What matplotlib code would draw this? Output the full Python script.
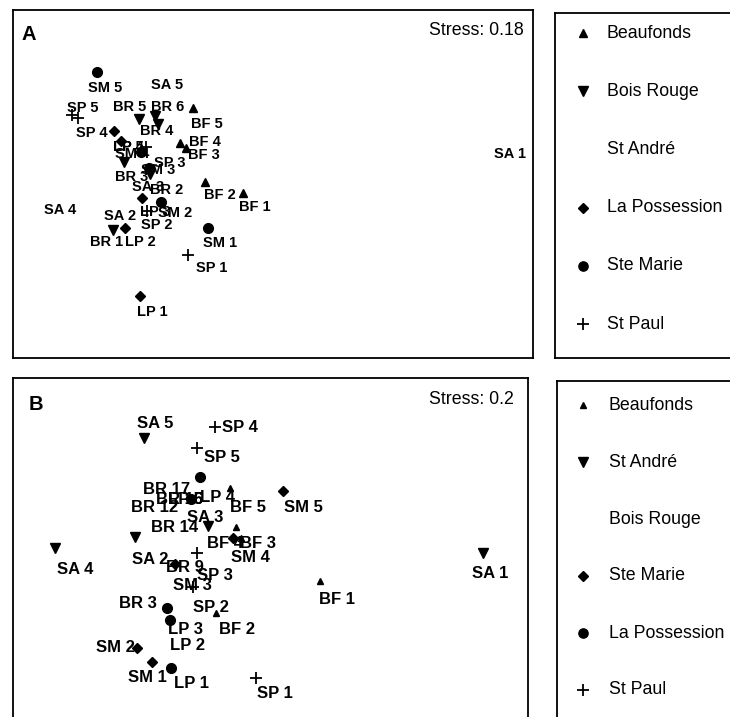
import matplotlib
matplotlib.use('Agg')
import matplotlib.pyplot as plt

plt.rcParams['font.family'] = ['Liberation Sans', 'DejaVu Sans']

# ---- panel A: NMDS coordinates (arbitrary units) and label nudges (px)
a_labels = ["SM 5", "SA 5", "SP 5", "SP 4", "BR 5", "BR 6", "BR 4", "BF 5", "BF 4", "BF 3",
            "LP 5", "LP 4", "SP 3", "SM 4", "BR 3", "SM 3", "BR 2", "SA 3", "BF 2", "BF 1",
            "LP 3", "SM 2", "SA 4", "SA 2", "SP 2", "BR 1", "LP 2", "SM 1", "SP 1", "LP 1", "SA 1"]
a_x = [-1.76, -1.16, -2.01, -1.95, -1.34, -1.18, -1.15, -0.80, -0.93, -0.87,
       -1.59, -1.52, -1.27, -1.32, -1.49, -1.24, -1.23, -1.35, -0.68, -0.30,
       -1.31, -1.12, -2.23, -1.63, -1.26, -1.60, -1.48, -0.65, -0.85, -1.33, 2.27]
a_y = [1.12, 1.13, 0.69, 0.66, 0.65, 0.68, 0.60, 0.76, 0.41, 0.36,
       0.53, 0.43, 0.37, 0.32, 0.22, 0.16, 0.10, 0.11, 0.02, -0.09,
       -0.14, -0.18, -0.12, -0.18, -0.27, -0.46, -0.44, -0.44, -0.71, -1.12, 0.44]
a_dx = [8, 10, 11, 14, -9, 13, -1, 14, 25, 18, 14, 7, 24, -9, 8, 9, 17, 10, 15, 12,
        13, 14, 10, 10, 10, -6, 15, 12, 24, 12, 10]
a_dy = [-16, -14, 7, -15, 12, 9, -7, -16, 1, -7, -16, -6, -16, -2, -15, -2, -16, -14, -13, -14,
        -14, -11, -14, -14, -14, -12, -14, -15, -13, -16, -14]
a_stress = "Stress: 0.18"
a_legend = ["Beaufonds", "Bois Rouge", "St André", "La Possession", "Ste Marie", "St Paul"]
a_codes = ["BF", "BR", "SA", "LP", "SM", "SP"]

# ---- panel B
b_labels = ["SA 5", "SP 4", "SP 5", "LP 4", "BR 17", "BR 16", "LP 5", "BR 12", "BF 5", "SM 5",
            "SA 3", "BR 14", "BF 4", "BF 3", "SM 4", "SA 2", "SA 4", "SP 3", "BR 9", "SM 3",
            "SA 1", "BF 1", "BR 3", "SP 2", "BF 2", "LP 3", "LP 2", "SM 2", "SM 1", "LP 1", "SP 1"]
b_x = [-1.26, -0.55, -0.73, -0.70, -1.21, -1.08, -0.79, -1.33, -0.40, 0.13,
       -0.62, -1.13, -0.34, -0.29, -0.37, -1.35, -2.15, -0.73, -1.03, -0.95,
       2.13, 0.50, -1.50, -0.77, -0.54, -1.03, -1.00, -1.33, -1.18, -0.99, -0.14]
b_y = [1.15, 1.26, 1.05, 0.76, 0.84, 0.75, 0.54, 0.66, 0.65, 0.62,
       0.27, 0.46, 0.26, 0.15, 0.15, 0.16, 0.05, 0.00, 0.06, -0.11,
       0.00, -0.28, -0.29, -0.34, -0.60, -0.55, -0.67, -0.95, -1.09, -1.15, -1.25]
b_dx = [11, 25, 25, 18, 18, 18, -6, 18, 18, 20, -3, 18, -11, 17, 17, 15, 20, 18, 18, 17,
        7, 17, 18, 18, 21, 18, 18, -22, -5, 21, 19]
b_dy = [15, 0, -10, -21, -21, -21, -1, -21, -20, -17, 8, -21, -16, -6, -20, -23, -22, -22, -21, -21,
        -20, -19, -21, -20, -17, -22, -25, 1, -16, -15, -15]
b_stress = "Stress: 0.2"
b_legend = ["Beaufonds", "St André", "Bois Rouge", "Ste Marie", "La Possession", "St Paul"]
b_codes = ["BF", "SA", "BR", "SM", "LP", "SP"]

# marker styles per site (None = label only)
style_a = {"BF": dict(marker='^', ms=5.5), "BR": dict(marker='v', ms=7.5), "SA": None,
           "LP": dict(marker='D', ms=5), "SM": dict(marker='o', ms=7),
           "SP": dict(marker='+', ms=9, mew=1.3)}
style_b = {"BF": dict(marker='^', ms=5), "SA": dict(marker='v', ms=7.5), "BR": None,
           "SM": dict(marker='D', ms=5), "LP": dict(marker='o', ms=7),
           "SP": dict(marker='+', ms=9, mew=1.3)}

W, H = 730, 717
fig = plt.figure(figsize=(W / 100, H / 100), dpi=100)


def box(l, t, r, b):
    return [l / W, 1 - b / H, (r - l) / W, (b - t) / H]


def frame(ax):
    ax.set_xticks([])
    ax.set_yticks([])
    for s in ax.spines.values():
        s.set_linewidth(1.3)


def draw(ax, labels, xs, ys, dx, dy, styles, fs):
    for lab, x, y, ox, oy in zip(labels, xs, ys, dx, dy):
        st = styles[lab.split()[0]]
        if st:
            ax.plot(x, y, linestyle='none', color='black', **st)
        ax.annotate(lab, (x, y), xytext=(ox, oy), textcoords='offset pixels',
                    ha='center', va='center', fontsize=fs, fontweight='bold')


def legend(ax, names, codes, styles, y0, step, mx, tx, height):
    ax.set_xlim(0, 205)
    ax.set_ylim(height, 0)
    for i, (name, code) in enumerate(zip(names, codes)):
        y = y0 + i * step
        st = styles[code]
        if st:
            st = dict(st)
            st['ms'] = st['ms'] * 0.95
            ax.plot(mx, y, linestyle='none', color='black', **st)
        ax.text(tx, y, name, va='center', ha='left', fontsize=12.8)


# panel A
axA = fig.add_axes(box(13, 10, 533, 358))
frame(axA)
axA.set_xlim(-2.60, 2.60)
axA.set_ylim(-1.74, 1.74)
draw(axA, a_labels, a_x, a_y, a_dx, a_dy, style_a, 10.5)
axA.text(8 / 520, 1 - 15 / 348, "A", transform=axA.transAxes, ha='left', va='top',
         fontsize=14.5, fontweight='bold')
axA.text(1 - 9 / 520, 1 - 20 / 348, a_stress, transform=axA.transAxes, ha='right',
         va='center', fontsize=12.8)

legA = fig.add_axes(box(555, 13, 760, 358))
frame(legA)
legend(legA, a_legend, a_codes, style_a, 20, 58.2, 28, 52, 345)

# panel B
axB = fig.add_axes(box(13, 378, 528, 728))
frame(axB)
axB.set_xlim(-2.57, 2.58)
axB.set_ylim(-1.75, 1.75)
draw(axB, b_labels, b_x, b_y, b_dx, b_dy, style_b, 12)
axB.text(16 / 515, 1 - 17 / 350, "B", transform=axB.transAxes, ha='left', va='top',
         fontsize=14.5, fontweight='bold')
axB.text(1 - 14 / 515, 1 - 22 / 350, b_stress, transform=axB.transAxes, ha='right',
         va='center', fontsize=12.8)

legB = fig.add_axes(box(557, 381, 762, 728))
frame(legB)
legend(legB, b_legend, b_codes, style_b, 24, 57, 26, 52, 347)

fig.savefig('out.png', dpi=100)
